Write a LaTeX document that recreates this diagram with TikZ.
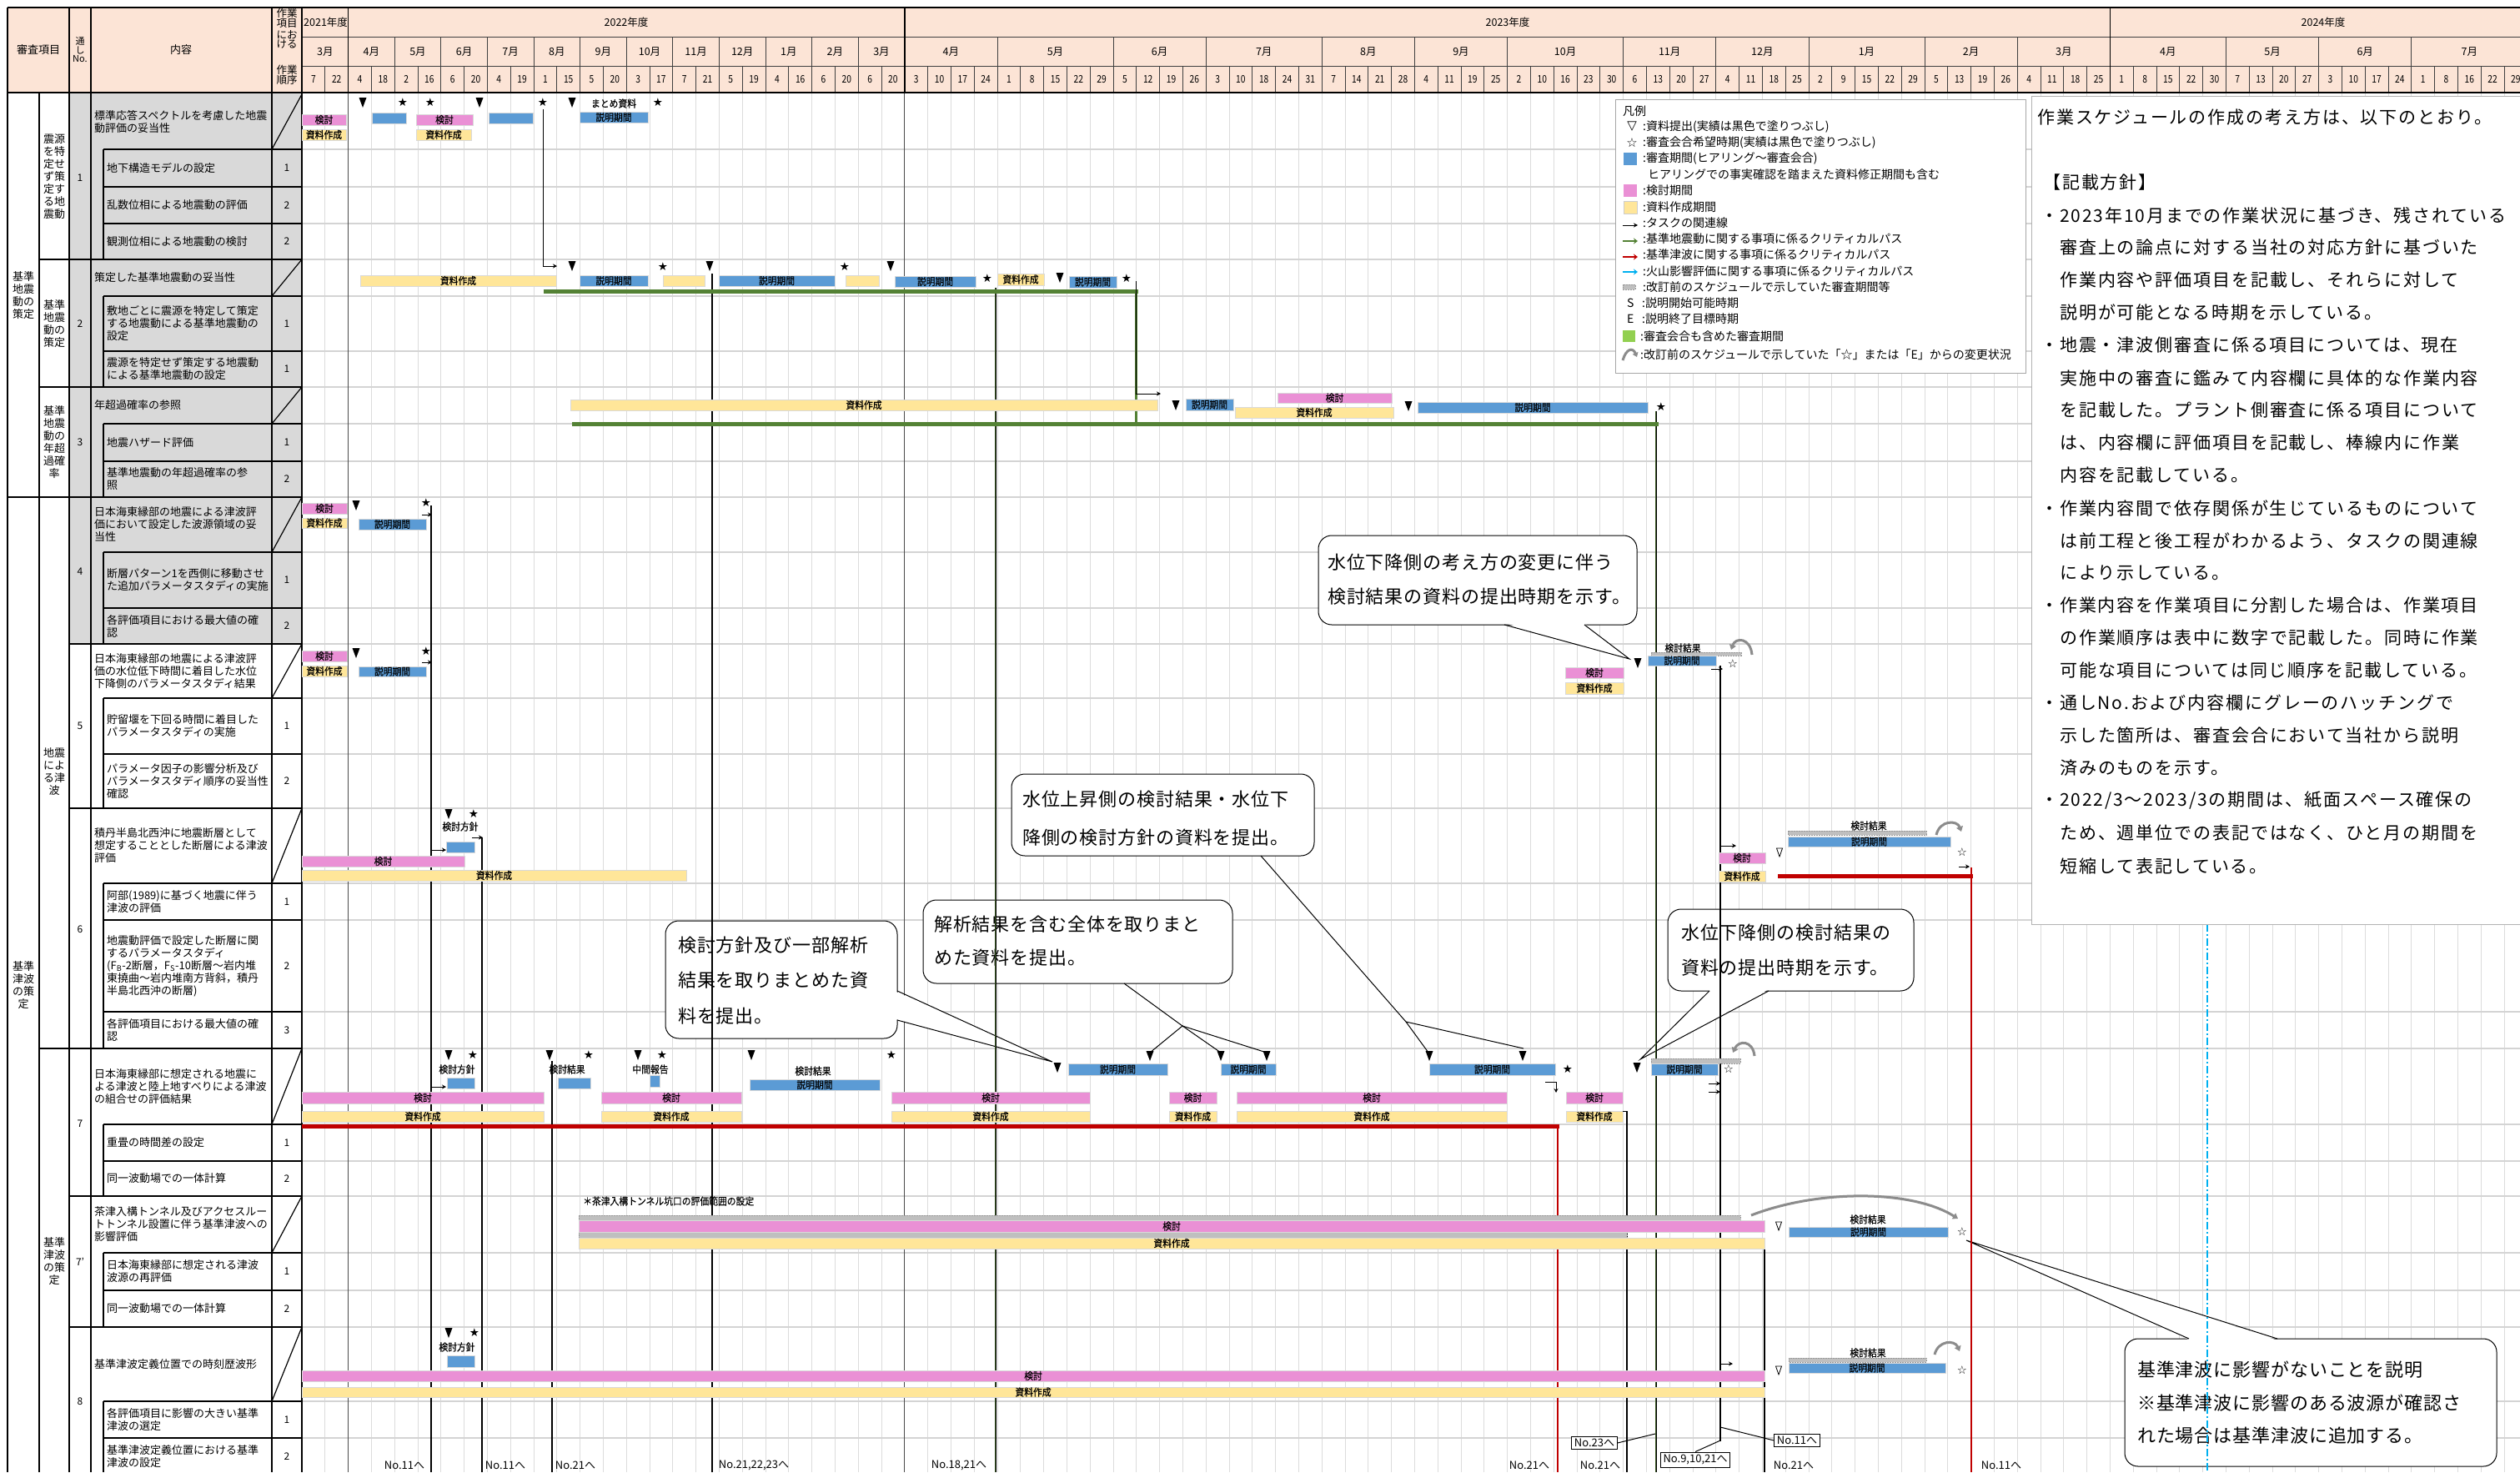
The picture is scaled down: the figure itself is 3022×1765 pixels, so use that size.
\documentclass[tikz,border=0pt]{standalone}
\usepackage{fontspec}
\setmainfont{Noto Sans CJK JP}
\newfontfamily\barf[FakeStretch=0.9,FakeBold=0.4]{Noto Sans CJK JP}
\newfontfamily\hdf[FakeStretch=0.82]{Noto Sans CJK JP}
\newfontfamily\rtf[LetterSpace=9]{Noto Sans CJK JP}
\newfontfamily\cof[LetterSpace=4]{Noto Sans CJK JP}
\newfontfamily\symf{DejaVu Sans}
\usetikzlibrary{arrows.meta}
\definecolor{hdr}{HTML}{FCE4D6}
\definecolor{cellg}{HTML}{D9D9D9}
\definecolor{kpink}{HTML}{EA90D5}
\definecolor{kyel}{HTML}{FFE699}
\definecolor{kblue}{HTML}{5B9BD5}
\definecolor{kgreen}{HTML}{548235}
\definecolor{kred}{HTML}{C00000}
\definecolor{kcyan}{HTML}{00B0F0}
\definecolor{gridc}{HTML}{DCDCDC}
\definecolor{gridhc}{HTML}{D4D4D4}
\definecolor{oldg}{HTML}{BFBFBF}
\definecolor{lgreen}{HTML}{92D050}
\newcounter{mkc}
\newcommand\gbr[6]{\stepcounter{mkc}\path[#1] (#2,#3) rectangle (#4,#5);\node[lbl] (b\themkc) at ({(#2+#4)/2},{(#3+#5)/2}) {#6};}
\newcommand\mtri[2]{\fill (#1-4.5,#2-6) -- (#1+4.5,#2-6) -- (#1,#2+6) -- cycle;}
\newcommand\motri[2]{\draw[line width=0.8pt,line join=miter] (#1-3.5,#2-5) -- (#1+3.5,#2-5) -- (#1,#2+5) -- cycle;}
\newcommand\mstar[2]{\stepcounter{mkc}\node[mk] (s\themkc) at (#1,#2) {★};}
\newcommand\mostar[2]{\stepcounter{mkc}\node[mk] (s\themkc) at (#1,#2) {☆};}
\begin{document}
\begin{tikzpicture}[x=1pt,y=-1pt,
  lbl/.style={font=\barf\fontsize{12}{12}\selectfont,inner sep=0pt},
  mk/.style={font=\symf\fontsize{13.5}{13.5}\selectfont,inner sep=0pt},
  hd/.style={font=\fontsize{12.5}{13}\selectfont,inner sep=0pt},
  hdd/.style={font=\hdf\fontsize{12.5}{13}\selectfont,inner sep=0pt},
  tt/.style={font=\fontsize{13}{15}\selectfont,inner sep=0pt,align=left,anchor=west},
  tn/.style={font=\fontsize{12}{15}\selectfont,inner sep=0pt},
  tg/.style={font=\fontsize{13}{15}\selectfont,inner sep=0pt,align=center},
  pinkb/.style={fill=kpink,draw=black!15,line width=0.8pt},
  yelb/.style={fill=kyel,draw=black!15,line width=0.8pt},
  blueb/.style={fill=kblue,draw=black!15,line width=0.8pt},
  oldb/.style={fill=oldg,draw=black!40,line width=0.6pt,dash pattern=on 2pt off 1pt},
  gridv/.style={draw=gridc,line width=0.9pt},
  gridh/.style={draw=gridhc,line width=2pt},
  hl/.style={draw=black!75,line width=0.8pt},
  tb/.style={draw=black,line width=1.2pt},
  conn/.style={draw=black,line width=1pt},
  arr/.style={draw=black,line width=1pt,-{Stealth[length=5pt,width=5pt]}},
  vline/.style={draw=black,line width=1.1pt},
  gvline/.style={draw=kgreen!70!black,line width=2.5pt},
  critg/.style={draw=kgreen,line width=5pt},
  critr/.style={draw=kred,line width=5pt},
  rvline/.style={draw=kred,line width=2.5pt},
  oldarr/.style={draw=black!45,line width=3pt,-{Triangle[length=6pt,width=8pt]}},
  call/.style={draw=black,fill=white,rounded corners=16pt,line width=1pt},
  ct/.style={font=\cof\fontsize{22}{26}\selectfont,inner sep=0pt,anchor=west},
  rt/.style={font=\rtf\fontsize{21}{24}\selectfont,inner sep=0pt,anchor=west},
  lg/.style={font=\fontsize{14}{16}\selectfont,inner sep=0pt,anchor=west},
  lgs/.style={font=\symf\fontsize{15}{15}\selectfont,inner sep=0pt},
  bl/.style={font=\fontsize{13}{14}\selectfont,inner sep=0pt},
]
\useasboundingbox (0,0) rectangle (3022,1765);
\fill[white] (0,0) rectangle (3022,1765);
% ---------------- header background
\fill[hdr] (9,9) rectangle (3022,111);
% ---------------- body grid
\foreach \i in {1,...,95} \draw[gridv] ({362+27.8*\i},111) -- ({362+27.8*\i},1765);
\foreach \y in {179,224,268,311,355,421,464,508,553,596,662,729,772,837,904,969,1059,1103,1213,1257,1348,1392,1434,1502,1547,1591,1680,1724}
  \draw[gridh] (362,\y) -- (3022,\y);
\draw[draw=black!70,line width=1.2pt] (417.6,111) -- (417.6,1765);
\draw[draw=black!70,line width=1.2pt] (1084.8,111) -- (1084.8,1765);
% ---------------- grey cells (explained items)
\fill[cellg] (83,111) rectangle (362,772);
% ---------------- header lines
\draw[hl] (362,44) -- (3022,44);
\draw[hl] (362,79) -- (3022,79);
\foreach \c in {4,6,8,10,12,14,16,18,20,22,24,30,35,39,44,48,52,57,61,65,70,74,83,87,91}
  \draw[hl] ({362+27.8*\c},44) -- ({362+27.8*\c},79);
\foreach \i in {1,...,95} \draw[hl] ({362+27.8*\i},79) -- ({362+27.8*\i},111);
\foreach \c in {2,26,78} \draw[line width=1.5pt] ({362+27.8*\c},9) -- ({362+27.8*\c},111);
% header texts
\node[hd] (y21) at (364,27) [anchor=west] {2021年度};
\node[hd] (y22) at (751,27) {2022年度};
\node[hd] (y23) at (1808,27) {2023年度};
\node[hd] (y24) at (2786,27) {2024年度};
\foreach \a/\b/\m [count=\j] in {0/2/3月,2/4/4月,4/6/5月,6/8/6月,8/10/7月,10/12/8月,12/14/9月,14/16/10月,16/18/11月,18/20/12月,20/22/1月,22/24/2月,24/26/3月,26/30/4月,30/35/5月,35/39/6月,39/44/7月,44/48/8月,48/52/9月,52/57/10月,57/61/11月,61/65/12月,65/70/1月,70/74/2月,74/78/3月,78/83/4月,83/87/5月,87/91/6月,91/96/7月}
  \node[hd] (mo\j) at ({362+27.8*(\a+\b)/2},62) {\m};
\foreach \d [count=\i from 0] in {7,22,4,18,2,16,6,20,4,19,1,15,5,20,3,17,7,21,5,19,4,16,6,20,6,20,3,10,17,24,1,8,15,22,29,5,12,19,26,3,10,18,24,31,7,14,21,28,4,11,19,25,2,10,16,23,30,6,13,20,27,4,11,18,25,2,9,15,22,29,5,13,19,26,4,11,18,25,1,8,15,22,30,7,13,20,27,3,10,17,24,1,8,16,22,29}
  \node[hdd] (dt\i) at ({362+27.8*\i+13.9},95) {\d};
\node[font=\fontsize{13}{15}\selectfont,inner sep=0pt] (h1) at (46,60) {審査項目};
\node[font=\fontsize{11}{10.5}\selectfont,inner sep=0pt,align=center] (h2) at (96,60) {通\\し\\No.};
\node[font=\fontsize{13}{15}\selectfont,inner sep=0pt] (h3) at (217,60) {内容};
\foreach \t/\y [count=\k] in {作業/16,項目/28,にお/42,ける/53,作業/84,順序/96}
  \node[font=\fontsize{12.5}{13}\selectfont,inner sep=0pt] (h4\k) at (344,\y) {\t};
% ---------------- table lines
\draw[line width=2pt] (9,9) -- (3022,9);
\draw[line width=2pt] (9,111) -- (3022,111);
\draw[line width=2pt] (9,9) -- (9,1765);
\draw[tb] (47,111) -- (47,1765);
\draw[tb] (83,9) -- (83,1765);
\draw[tb] (109,9) -- (109,1765);
\draw[tb] (326,9) -- (326,1765);
\draw[line width=2pt] (362,9) -- (362,1765);
\draw[line width=2pt] (9,596) -- (362,596);
\foreach \y in {311,464,1257} \draw[line width=1.6pt] (47,\y) -- (362,\y);
\foreach \y in {772,969,1434,1591} \draw[line width=1.6pt] (83,\y) -- (362,\y);
\foreach \y in {179,224,268,355,421,508,553,662,729,837,904,1059,1103,1213,1348,1392,1502,1547,1680,1724}
  \draw[tb] (124,\y) -- (362,\y);
\foreach \a/\b in {179/311,355/464,508/596,662/772,837/969,1059/1257,1348/1434,1502/1591,1680/1765}
  \draw[tb] (124,\a) -- (124,\b);
\foreach \a/\b in {113/179,311/355,464/508,596/662,772/837,969/1059,1257/1348,1434/1502,1591/1680}
  \draw[tb] (326,\b) -- (362,\a);
% group labels
\node[tg] (g1) at (28,354) {基準\\地震\\動の\\策定};
\node[tg] (g2) at (28,1181) {基準\\津波\\の策\\定};
\node[tg] (g3) at (65,212) {震源\\を特\\定せ\\ず策\\定す\\る地\\震動};
\node[tg] (g4) at (65,388) {基準\\地震\\動の\\策定};
\node[tg] (g5) at (65,530) {基準\\地震\\動の\\年超\\過確\\率};
\node[tg] (g6) at (65,925) {地震\\によ\\る津\\波};
\node[tg] (g7) at (65,1512) {基準\\津波\\の策\\定};
% serial numbers
\foreach \n/\y [count=\k] in {1/213,2/388,3/530,4/685,5/870,6/1114,7/1347,7’/1513,8/1680}
  \node[tn] (sn\k) at (96,\y) {\n};
% contents
\node[tt] (t1) at (113,146) {標準応答スペクトルを考慮した地震\\動評価の妥当性};
\node[tt] (t2) at (128,201.5) {地下構造モデルの設定};
\node[tt] (t3) at (128,246) {乱数位相による地震動の評価};
\node[tt] (t4) at (128,289.5) {観測位相による地震動の検討};
\node[tt] (t5) at (113,333) {策定した基準地震動の妥当性};
\node[tt] (t6) at (128,388) {敷地ごとに震源を特定して策定\\する地震動による基準地震動の\\設定};
\node[tt] (t7) at (128,442.5) {震源を特定せず策定する地震動\\による基準地震動の設定};
\node[tt] (t8) at (113,486) {年超過確率の参照};
\node[tt] (t9) at (128,530.5) {地震ハザード評価};
\node[tt] (t10) at (128,574.5) {基準地震動の年超過確率の参\\照};
\node[tt] (t11) at (113,629) {日本海東縁部の地震による津波評\\価において設定した波源領域の妥\\当性};
\node[tt] (t12) at (128,695.5) {断層パターン1を西側に移動させ\\た追加パラメータスタディの実施};
\node[tt] (t13) at (128,750.5) {各評価項目における最大値の確\\認};
\node[tt] (t14) at (113,804.5) {日本海東縁部の地震による津波評\\価の水位低下時間に着目した水位\\下降側のパラメータスタディ結果};
\node[tt] (t15) at (128,870.5) {貯留堰を下回る時間に着目した\\パラメータスタディの実施};
\node[tt] (t16) at (128,936.5) {パラメータ因子の影響分析及び\\パラメータスタディ順序の妥当性\\確認};
\node[tt] (t17) at (113,1014) {積丹半島北西沖に地震断層として\\想定することとした断層による津波\\評価};
\node[tt] (t18) at (128,1081) {阿部(1989)に基づく地震に伴う\\津波の評価};
\node[tt] (t19) at (128,1158) {地震動評価で設定した断層に関\\するパラメータスタディ\\(F\textsubscript{B}-2断層，F\textsubscript{S}-10断層～岩内堆\\東撓曲～岩内堆南方背斜，積丹\\半島北西沖の断層)};
\node[tt] (t20) at (128,1235) {各評価項目における最大値の確\\認};
\node[tt] (t21) at (113,1302.5) {日本海東縁部に想定される地震に\\よる津波と陸上地すべりによる津波\\の組合せの評価結果};
\node[tt] (t22) at (128,1370) {重畳の時間差の設定};
\node[tt] (t23) at (128,1413) {同一波動場での一体計算};
\node[tt] (t24) at (113,1468) {茶津入構トンネル及びアクセスルー\\トトンネル設置に伴う基準津波への\\影響評価};
\node[tt] (t25) at (128,1524.5) {日本海東縁部に想定される津波\\波源の再評価};
\node[tt] (t26) at (128,1569) {同一波動場での一体計算};
\node[tt] (t27) at (113,1635.5) {基準津波定義位置での時刻歴波形};
\node[tt] (t28) at (128,1702) {各評価項目に影響の大きい基準\\津波の選定};
\node[tt] (t29) at (128,1746) {基準津波定義位置における基準\\津波の設定};
\foreach \n/\y [count=\k] in {1/201.5,2/246,2/289.5,1/388,1/442.5,1/530.5,2/574.5,1/695.5,2/750.5,1/870.5,2/936.5,1/1081,2/1158,3/1235,1/1370,2/1413,1/1524.5,2/1569,1/1702,2/1746}
  \node[tn] (o\k) at (344,\y) {\n};
% ---------------- callouts (white, below the chart lines)
\draw[call] (1581,642) rectangle (1963,749);
\fill[white] (1805,747) -- (1954,790) -- (1899,747) -- cycle;
\draw[conn] (1804,749) -- (1954,790) -- (1900,749);
\node[ct] (c1a) at (1592,674) {水位下降側の考え方の変更に伴う};
\node[ct] (c1b) at (1592,715) {検討結果の資料の提出時期を示す。};
\draw[call] (1213,928) rectangle (1576,1026);
\node[ct] (c2a) at (1226,958) {水位上昇側の検討結果・水位下};
\node[ct] (c2b) at (1226,1004) {降側の検討方針の資料を提出。};
\draw[conn] (1512,1026) -- (1686,1225) -- (1713,1262);
\draw[conn] (1686,1225) -- (1827,1257);
\draw[call] (798,1104) rectangle (1076,1245);
\fill[white] (1074.5,1189) -- (1262,1273) -- (1074.5,1222) -- cycle;
\draw[conn] (1076,1188) -- (1262,1273) -- (1076,1223);
\node[ct] (c3a) at (813,1133) {検討方針及び一部解析};
\node[ct] (c3b) at (813,1175) {結果を取りまとめた資};
\node[ct] (c3c) at (813,1218) {料を提出。};
\draw[call] (1107,1079) rectangle (1478,1179);
\node[ct] (c4a) at (1120,1108) {解析結果を含む全体を取りまと};
\node[ct] (c4b) at (1120,1148) {めた資料を提出。};
\draw[conn] (1348,1179) -- (1418,1230) -- (1379,1262);
\draw[conn] (1418,1230) -- (1464,1262);
\draw[conn] (1418,1230) -- (1519,1262);
\draw[call] (2000,1090) rectangle (2295,1188);
\fill[white] (2051,1186.5) -- (1967,1270) -- (2120,1186.5) -- cycle;
\draw[conn] (2050,1188) -- (1967,1270) -- (2121,1188);
\node[ct] (c5a) at (2016,1118) {水位下降側の検討結果の};
\node[ct] (c5b) at (2016,1160) {資料の提出時期を示す。};
\draw[call] (2548,1605) rectangle (2994,1758);
\fill[white] (2626,1606.5) -- (2358,1487) -- (2730,1606.5) -- cycle;
\draw[conn] (2625,1605) -- (2358,1487) -- (2731,1605);
\node[ct] (c6a) at (2563,1642) {基準津波に影響がないことを説明};
\node[ct] (c6b) at (2563,1682) {※基準津波に影響のある波源が確認さ};
\node[ct] (c6c) at (2563,1721) {れた場合は基準津波に追加する。};
% ---------------- long vertical task lines
\draw[vline] (517,606) -- (517,1765);
\draw[vline] (578,1004) -- (578,1765);
\draw[vline] (662,1272) -- (662,1765);
\draw[vline] (854,328) -- (854,1765);
\draw[gvline] (1194,345) -- (1194,1765);
\draw[draw=black,line width=0.7pt] (1194,345) -- (1194,1765);
\draw[gvline] (1986,493) -- (1986,1765);
\draw[draw=black,line width=0.7pt] (1986,493) -- (1986,1765);
\draw[vline] (1951,1332) -- (1951,1765);
\draw[vline] (2063,798) -- (2063,1728);
\draw[vline] (2116,1497) -- (2116,1765);
\draw[draw=kcyan,line width=1.3pt,dash pattern=on 9pt off 3pt on 2pt off 3pt] (2647,1108) -- (2647,1765);
% ---------------- S1
\gbr{pinkb}{362}{137}{415}{150}{検討}
\gbr{yelb}{362}{155}{415}{168}{資料作成}
\gbr{blueb}{446}{135}{487}{148}{}
\gbr{pinkb}{499}{137}{567}{150}{検討}
\gbr{yelb}{499}{155}{565}{168}{資料作成}
\gbr{blueb}{586}{135}{639}{148}{}
\gbr{blueb}{695}{134}{777}{147}{説明期間}
\mtri{435}{123} \mstar{483}{123} \mstar{516}{123} \mtri{575}{123} \mstar{651}{123} \mtri{686}{123}
\node[lbl] (mt1) at (736,124) {まとめ資料};
\mstar{789}{123}
\draw[arr] (651,131) |- (668,319);
% ---------------- S2
\gbr{yelb}{432}{330}{667}{343}{資料作成}
\gbr{blueb}{695}{330}{777}{343}{説明期間}
\gbr{yelb}{795}{330}{845}{343}{}
\gbr{blueb}{862}{330}{1001}{343}{説明期間}
\gbr{yelb}{1014}{330}{1054}{343}{}
\gbr{blueb}{1073}{331}{1170}{344}{説明期間}
\gbr{yelb}{1196}{328}{1252}{342}{資料作成}
\gbr{blueb}{1282}{331}{1339}{345}{説明期間}
\mtri{686}{319} \mstar{795}{320} \mtri{851}{319} \mstar{1013}{320} \mtri{1068}{319}
\mstar{1184}{334} \mtri{1271}{333} \mstar{1351}{334}
\draw[critg] (652,349) -- (1365,349);
\draw[draw=kgreen,line width=3pt] (1362,349) -- (1362,508);
\draw[arr] (1362,337) |- (1392,472);
% ---------------- S3
\gbr{yelb}{684}{479}{1388}{492}{資料作成}
\mtri{1410}{486}
\gbr{blueb}{1422}{478}{1479}{492}{説明期間}
\gbr{pinkb}{1532}{471}{1669}{483}{検討}
\gbr{yelb}{1481}{488}{1671}{501}{資料作成}
\mtri{1689}{487}
\gbr{blueb}{1700}{482}{1976}{495}{説明期間}
\mstar{1992}{488}
\draw[critg] (686,508) -- (1989,508);
% ---------------- S4
\gbr{pinkb}{362}{603}{416}{616}{検討}
\gbr{yelb}{362}{621}{416}{633}{資料作成}
\mtri{427}{606}
\gbr{blueb}{430}{622}{511}{635}{説明期間}
\mstar{511}{603}
\draw[arr] (506,617) -- (518,617);
% ---------------- S5
\gbr{pinkb}{362}{780}{416}{793}{検討}
\gbr{yelb}{362}{798}{416}{811}{資料作成}
\mtri{427}{783}
\gbr{blueb}{430}{799}{511}{811}{説明期間}
\mstar{511}{781}
\draw[arr] (506,794) -- (518,794);
\gbr{pinkb}{1877}{800}{1947}{813}{検討}
\gbr{yelb}{1877}{818}{1947}{832}{資料作成}
\mtri{1964}{795}
\node[lbl] (kk1) at (2018,777) {検討結果};
\gbr{oldb}{1980}{782}{2088}{786}{}
\gbr{blueb}{1976}{786}{2058}{798}{説明期間}
\mostar{2078}{796}
\draw[arr] (2052,802) -- (2066,802);
\draw[oldarr] (2101,785) .. controls (2099,764) and (2081,764) .. (2076,779);
% ---------------- S6
\mtri{538}{976} \mstar{568}{976}
\node[lbl] (kh1) at (552,991) {検討方針};
\gbr{blueb}{535}{1009}{569}{1022}{}
\gbr{pinkb}{362}{1026}{557}{1039}{検討}
\gbr{yelb}{362}{1043}{823}{1056}{資料作成}
\draw[arr] (517,1019) -- (535,1019);
\draw[arr] (566,1004) -- (579,1004);
\gbr{pinkb}{2061}{1022}{2117}{1035}{検討}
\gbr{yelb}{2061}{1044}{2117}{1057}{資料作成}
\motri{2134}{1022}
\node[lbl] (kk2) at (2241,990) {検討結果};
\gbr{oldb}{2144}{996}{2310}{1001}{}
\gbr{blueb}{2144}{1003}{2339}{1015}{説明期間}
\mostar{2353}{1022}
\draw[arr] (2063,1014) -- (2082,1014);
\draw[oldarr] (2322,1001) .. controls (2326,983) and (2347,983) .. (2352,997);
\draw[critr] (2132,1050) -- (2366,1050);
\draw[rvline] (2364,1040) -- (2364,1765);
\draw[arr] (2349,1039) -- (2362,1039);
% ---------------- S7
\mtri{538}{1265} \mstar{567}{1265} \mtri{659}{1265} \mstar{706}{1265} \mtri{765}{1265} \mstar{794}{1265} \mtri{901}{1265} \mstar{1069}{1265}
\node[lbl] (kh2) at (548,1282) {検討方針};
\node[lbl] (kk3) at (680,1282) {検討結果};
\node[lbl] (ch1) at (780,1282) {中間報告};
\node[lbl] (kk4) at (975,1284) {検討結果};
\gbr{blueb}{536}{1292}{569}{1305}{}
\gbr{blueb}{669}{1292}{708}{1305}{}
\gbr{blueb}{779}{1289}{791}{1303}{}
\gbr{blueb}{899}{1294}{1055}{1307}{説明期間}
\draw[arr] (517,1303) -- (535,1303);
\foreach \a/\b in {362/652,721/889,1069/1307,1402/1459,1483/1807,1878/1946}{
  \gbr{pinkb}{\a}{1309}{\b}{1323}{検討}
  \gbr{yelb}{\a}{1332}{\b}{1345}{資料作成}
}
\mtri{1268}{1280}
\gbr{blueb}{1281}{1275}{1400}{1289}{説明期間}
\gbr{blueb}{1464}{1275}{1530}{1289}{説明期間}
\gbr{blueb}{1714}{1275}{1865}{1289}{説明期間}
\gbr{oldb}{1980}{1269}{2087}{1275}{}
\gbr{blueb}{1980}{1275}{2060}{1289}{説明期間}
\mtri{1379}{1266} \mtri{1464}{1266} \mtri{1519}{1266} \mtri{1714}{1266} \mtri{1826}{1266}
\mtri{1963}{1280}
\mstar{1880}{1282}
\mostar{2073}{1282}
\draw[oldarr] (2104,1266) .. controls (2102,1247) and (2085,1247) .. (2078,1262);
\draw[arr] (1853,1297) -| (1866,1310);
\draw[arr] (2049,1299) -- (2063,1299);
\draw[arr] (2049,1309) -- (2063,1309);
\draw[conn] (1946,1332) -- (1951,1332);
\draw[critr] (362,1350) -- (1870,1350);
\draw[rvline] (1868,1350) -- (1868,1765);
% ---------------- S7'
\node[lbl,anchor=west] (note1) at (699,1440) {＊茶津入構トンネル坑口の評価範囲の設定};
\gbr{oldb}{694}{1457}{2087}{1463}{}
\gbr{oldb}{694}{1477}{1951}{1484}{}
\gbr{pinkb}{694}{1463}{2116}{1477}{検討}
\gbr{yelb}{694}{1484}{2116}{1497}{資料作成}
\motri{2133}{1470}
\node[lbl] (kk5) at (2240,1462) {検討結果};
\gbr{blueb}{2145}{1471}{2336}{1483}{説明期間}
\mostar{2353}{1477}
\draw[oldarr] (2100,1457) .. controls (2180,1426) and (2292,1426) .. (2348,1461);
% ---------------- S8
\mtri{538}{1598} \mstar{569}{1598}
\node[lbl] (kh3) at (548,1615) {検討方針};
\gbr{blueb}{536}{1625}{569}{1639}{}
\gbr{pinkb}{362}{1643}{2116}{1656}{検討}
\gbr{yelb}{362}{1663}{2116}{1675}{資料作成}
\motri{2133}{1643}
\node[lbl] (kk6) at (2240,1622) {検討結果};
\gbr{oldb}{2145}{1628}{2310}{1633}{}
\gbr{blueb}{2145}{1634}{2333}{1646}{説明期間}
\mostar{2353}{1643}
\draw[arr] (2063,1635) -- (2078,1635);
\draw[oldarr] (2320,1624) .. controls (2324,1607) and (2344,1606) .. (2350,1620);
% ---------------- bottom references
\node[bl] (n1) at (485,1757) {No.11へ};
\node[bl] (n2) at (606,1757) {No.11へ};
\node[bl] (n3) at (690,1757) {No.21へ};
\node[bl] (n4) at (904,1757) {No.21,22,23へ};
\node[bl] (n5) at (1150,1757) {No.18,21へ};
\node[bl] (n6) at (1834,1757) {No.21へ};
\node[bl] (n7) at (1919,1757) {No.21へ};
\node[bl] (n8) at (2151,1757) {No.21へ};
\node[bl] (n9) at (2400,1757) {No.11へ};
\node[bl,draw,fill=white,line width=1pt,inner sep=3pt] (nb1) at (1912,1730) {No.23へ};
\node[bl,draw,fill=white,line width=1pt,inner sep=3pt] (nb2) at (2033,1750) {No.9,10,21へ};
\node[bl,draw,fill=white,line width=1pt,inner sep=3pt] (nb3) at (2155,1727) {No.11へ};
\draw[conn] (nb1.east) -- (1985,1719);
\draw[conn] (nb2.north) -- (2063,1727);
\draw[conn] (2063,1711) -- (nb3.west);
% ---------------- legend
\draw[draw=black!35,fill=white,line width=0.8pt] (1937,119) rectangle (2429,447);
\node[lg] (lg0) at (1946,133) {凡例};
\node[lgs] (lsym1) at (1957,152) {▽};
\node[lg] (lg1) at (1970,152) {:資料提出(実績は黒色で塗りつぶし)};
\node[lgs] (lsym2) at (1957,171) {☆};
\node[lg] (lg2) at (1970,171) {:審査会合希望時期(実績は黒色で塗りつぶし)};
\fill[kblue] (1947,183) rectangle (1963,198);
\node[lg] (lg3) at (1970,190) {:審査期間(ヒアリング～審査会合)};
\node[lg] (lg4) at (1976,209) {ヒアリングでの事実確認を踏まえた資料修正期間も含む};
\fill[kpink] (1947,221) rectangle (1963,236);
\node[lg] (lg5) at (1970,228) {:検討期間};
\path[fill=kyel,draw=black!20] (1947,241) rectangle (1963,256);
\node[lg] (lg6) at (1970,248) {:資料作成期間};
\draw[arr,line width=0.8pt] (1946,270) -- (1964,270);
\node[lg] (lg7) at (1970,267) {:タスクの関連線};
\draw[draw=kgreen,line width=2.5pt,-{Stealth[length=5pt,width=7pt]}] (1946,289) -- (1964,289);
\node[lg] (lg8) at (1970,286) {:基準地震動に関する事項に係るクリティカルパス};
\draw[draw=kred,line width=2.5pt,-{Stealth[length=5pt,width=7pt]}] (1946,308) -- (1964,308);
\node[lg] (lg9) at (1970,305) {:基準津波に関する事項に係るクリティカルパス};
\draw[draw=kcyan,line width=2.5pt,-{Stealth[length=5pt,width=7pt]}] (1946,326) -- (1964,326);
\node[lg] (lg10) at (1970,325) {:火山影響評価に関する事項に係るクリティカルパス};
\path[oldb] (1946,341) rectangle (1961,347);
\node[lg] (lg11) at (1970,344) {:改訂前のスケジュールで示していた審査期間等};
\node[lg] (lsS) at (1951,363) {S};
\node[lg] (lg12) at (1969,363) {:説明開始可能時期};
\node[lg] (lsE) at (1951,382) {E};
\node[lg] (lg13) at (1969,382) {:説明終了目標時期};
\fill[lgreen] (1946,396) rectangle (1961,410);
\node[lg] (lg14) at (1967,403) {:審査会合も含めた審査期間};
\draw[draw=black!45,line width=3pt,-{Triangle[length=5pt,width=7pt]}] (1946,432) .. controls (1950,418) and (1958,416) .. (1963,428);
\node[lg] (lg15) at (1967,425) {:改訂前のスケジュールで示していた「☆」または「E」からの変更状況};
% ---------------- right explanation panel
\draw[draw=black!30,fill=white,line width=0.8pt] (2436,115) rectangle (3040,1108);
\node[rt] (r0) at (2443,141) {作業スケジュールの作成の考え方は、以下のとおり。};
\node[rt] (r2) at (2450,219) {【記載方針】};
\foreach \k/\x/\t in {3/2447/{・2023年10月までの作業状況に基づき、残されている},
  4/2470/{審査上の論点に対する当社の対応方針に基づいた},
  5/2470/{作業内容や評価項目を記載し、それらに対して},
  6/2470/{説明が可能となる時期を示している。},
  7/2447/{・地震・津波側審査に係る項目については、現在},
  8/2470/{実施中の審査に鑑みて内容欄に具体的な作業内容},
  9/2470/{を記載した。プラント側審査に係る項目について},
  10/2470/{は、内容欄に評価項目を記載し、棒線内に作業},
  11/2470/{内容を記載している。},
  12/2447/{・作業内容間で依存関係が生じているものについて},
  13/2470/{は前工程と後工程がわかるよう、タスクの関連線},
  14/2470/{により示している。},
  15/2447/{・作業内容を作業項目に分割した場合は、作業項目},
  16/2470/{の作業順序は表中に数字で記載した。同時に作業},
  17/2470/{可能な項目については同じ順序を記載している。},
  18/2447/{・通しNo.および内容欄にグレーのハッチングで},
  19/2470/{示した箇所は、審査会合において当社から説明},
  20/2470/{済みのものを示す。},
  22/2470/{ため、週単位での表記ではなく、ひと月の期間を},
  23/2470/{短縮して表記している。}}
  \node[rt] (r\k) at (\x,{141+39*\k}) {\t};
\node[rt] (r21) at (2447,{141+39*21}) {・2022/3～2023/3の期間は、紙面スペース確保の};
\end{tikzpicture}
\end{document}
